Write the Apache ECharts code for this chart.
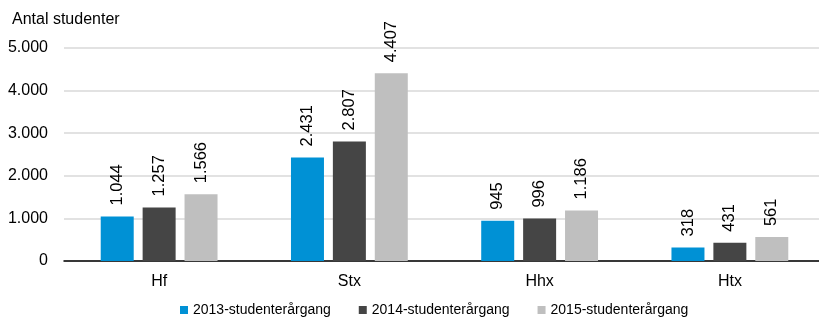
<!DOCTYPE html>
<html>
<head>
<meta charset="utf-8">
<script src="https://cdn.jsdelivr.net/npm/echarts@6/dist/echarts.min.js"></script>
<style>
  html, body { margin: 0; padding: 0; background: #fff; overflow: hidden; }
  /* plotområdet går lidt ud over højre kant i originalen */
  #chart { width: 825px; height: 318px; }
</style>
</head>
<body>
<div id="chart"></div>
<script>
var categories = ['Hf', 'Stx', 'Hhx', 'Htx'];
var seriesNames = ['2013-studenterårgang', '2014-studenterårgang', '2015-studenterårgang'];
var values2013 = [1044, 2431, 945, 318];
var values2014 = [1257, 2807, 996, 431];
var values2015 = [1566, 4407, 1186, 561];
var yTicks = [0, 1000, 2000, 3000, 4000, 5000];

var colors = ['#0091d5', '#454545', '#bfbfbf'];
var font = '"Liberation Sans", Arial, sans-serif';

// dansk tusindtalsseparator
function fmt(v) {
  return String(v).replace(/\B(?=(\d{3})+(?!\d))/g, '.');
}

function makeSeries(name, data, i) {
  return {
    name: name,
    type: 'bar',
    data: data,
    barWidth: 33,
    barGap: '27%',
    itemStyle: { color: colors[i] },
    label: {
      show: true,
      position: 'top',
      rotate: 90,
      align: 'left',
      verticalAlign: 'middle',
      distance: 11,
      fontSize: 16.5,
      fontFamily: font,
      color: '#000',
      formatter: function (p) { return fmt(p.value); }
    }
  };
}

var chart = echarts.init(document.getElementById('chart'));
var option = {
  animation: false,
  title: {
    text: 'Antal studenter',
    left: 7,
    top: 7,
    textStyle: { fontSize: 16, fontWeight: 'normal', color: '#000', fontFamily: font }
  },
  legend: {
    left: 175,
    top: 298,
    itemWidth: 8,
    itemHeight: 8,
    itemGap: 28,
    icon: 'rect',
    textStyle: { fontSize: 14, color: '#000', fontFamily: font },
    data: seriesNames
  },
  grid: { left: 64, right: 0, top: 48, bottom: 57, containLabel: false },
  xAxis: {
    type: 'category',
    data: categories,
    axisTick: { show: false },
    axisLine: { lineStyle: { color: '#000', width: 1.5 } },
    axisLabel: { fontSize: 16, color: '#000', fontFamily: font, margin: 13 }
  },
  yAxis: {
    type: 'value',
    min: yTicks[0],
    max: yTicks[yTicks.length - 1],
    interval: 1000,
    axisLine: { show: false },
    axisTick: { show: false },
    splitLine: { lineStyle: { color: '#d9d9d9', width: 1.5 } },
    axisLabel: {
      fontSize: 16, color: '#000', fontFamily: font, margin: 16,
      formatter: function (v) { return fmt(v); }
    }
  },
  series: [
    makeSeries(seriesNames[0], values2013, 0),
    makeSeries(seriesNames[1], values2014, 1),
    makeSeries(seriesNames[2], values2015, 2)
  ]
};
chart.setOption(option);
</script>
</body>
</html>
